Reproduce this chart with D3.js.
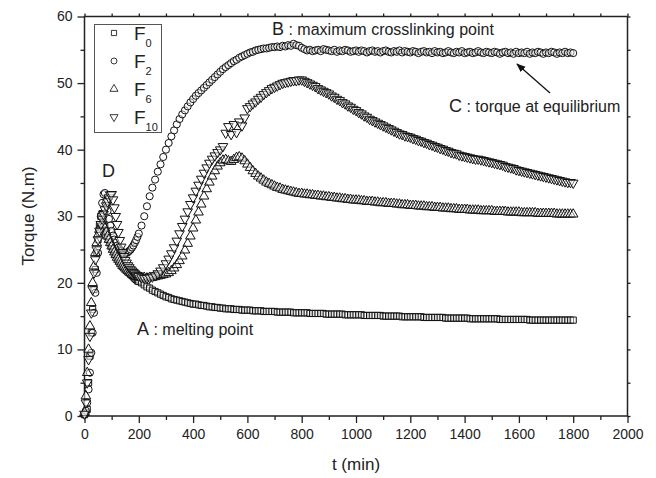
<!DOCTYPE html>
<html>
<head>
  <meta charset="UTF-8">
  <title>Torque vs time</title>
  <style>
    body { margin: 0; background: #fff; }
    text { font-family: "Liberation Sans", Arial, sans-serif; fill: #222; }
  </style>
</head>
<body>
<svg id="chart" width="656" height="478"></svg>
<script src="https://d3js.org/d3.v7.min.js"></script>
<script>

// sampling times (min)
var times = [0,5,10,15,20,25,30,35,40,45,50,55,60,65,70,75,80,85,90,95,
  100,105,110,115,120,125,130,135,140,145,150,155,160,165,170,175,180,185,190,195,200,
  210,220,230,240,250,260,270,280,290,300,310,320,330,340,350,360,370,380,390,400,
  410,420,430,440,450,460,470,480,490,500,510,520,530,540,550,560,570,580,590,600,
  610,620,630,640,650,660,670,680,690,700,710,720,730,740,750,760,770,780,790,800,
  810,820,830,840,850,860,870,880,890,900,910,920,930,940,950,960,970,980,990,1000,
  1010,1020,1030,1040,1050,1060,1070,1080,1090,1100,1110,1120,1130,1140,1150,1160,1170,1180,1190,1200,
  1210,1220,1230,1240,1250,1260,1270,1280,1290,1300,1310,1320,1330,1340,1350,1360,1370,1380,1390,1400,
  1410,1420,1430,1440,1450,1460,1470,1480,1490,1500,1510,1520,1530,1540,1550,1560,1570,1580,1590,1600,
  1610,1620,1630,1640,1650,1660,1670,1680,1690,1700,1710,1720,1730,1740,1750,1760,1770,1780,1790,1800];

// torque (N.m) per sample
var F0 = [0.2,0.5,1,5,9,12.5,16,19,22,24.5,26.5,28.5,30,30.4,29.5,28.5,27.8,27,26.5,26,
  25.5,25.1,24.7,24.3,24,23.6,23.3,23,22.7,22.5,22.2,22,21.8,21.5,21.3,21.1,20.9,20.7,20.5,20.3,20.2,
  20.0,19.7,19.4,19.2,18.9,18.7,18.5,18.3,18.1,17.9,
  17.8,17.6,17.5,17.4,17.3,17.2,17.1,17.0,16.9,16.8,
  16.8,16.7,16.6,16.6,16.5,16.4,16.4,16.3,16.3,16.2,
  16.2,16.1,16.1,16.1,16.0,16.0,16.0,15.9,15.9,15.9,
  15.9,15.8,15.8,15.8,15.8,15.7,15.7,15.7,15.7,15.7,
  15.6,15.6,15.6,15.6,15.6,15.6,15.5,15.5,15.5,15.5,
  15.5,15.5,15.4,15.4,15.4,15.4,15.4,15.4,15.3,15.3,
  15.3,15.3,15.3,15.3,15.3,15.2,15.2,15.2,15.2,15.2,
  15.2,15.2,15.1,15.1,15.1,15.1,15.1,15.1,15.1,15.0,
  15.0,15.0,15.0,15.0,15.0,15.0,14.9,14.9,14.9,14.9,
  14.9,14.9,14.9,14.9,14.8,14.8,14.8,14.8,14.8,14.8,
  14.8,14.8,14.7,14.7,14.7,14.7,14.7,14.7,14.7,14.7,
  14.7,14.6,14.6,14.6,14.6,14.6,14.6,14.6,14.6,14.6,
  14.6,14.6,14.5,14.5,14.5,14.5,14.5,14.5,14.5,14.5,
  14.5,14.5,14.5,14.4,14.4,14.4,14.4,14.4,14.4,14.4,
  14.4,14.4,14.4,14.4,14.4,14.4,14.4,14.4,14.4,14.4];

var F2 = [0.2,0.8,2,4,6.5,9.5,12.5,15.5,18.5,21.5,24.5,27.5,30,32,33.3,33.5,32.2,30.8,29.6,28.6,
  27.8,27.1,26.5,26,25.6,25.3,25,24.8,24.6,24.5,24.5,24.5,24.6,24.8,25,25.3,25.6,26,26.4,26.9,27.4,
  28.6,30,31.5,33,34.3,35.5,36.7,37.8,38.9,40,
  41,42,42.9,43.8,44.6,45.3,45.9,46.5,47.1,47.6,
  48.1,48.5,48.9,49.3,49.7,50.1,50.5,50.9,51.3,51.7,
  52.1,52.4,52.7,53,53.3,53.5,53.8,54,54.2,54.4,
  54.6,54.7,54.9,55,55.1,55.2,55.2,55.3,55.4,55.4,
  55.5,55.4,55.6,55.5,55.7,55.6,55.9,55.7,55.6,55.3,
  55.1,54.9,55.0,54.8,54.9,55.0,54.8,55.1,55.0,54.9,
  54.8,55.0,54.7,54.9,54.8,55.0,54.9,54.7,54.8,54.9,
  54.7,54.9,54.8,54.6,54.8,54.9,54.7,54.8,54.6,54.8,
  54.9,54.7,54.6,54.8,54.7,54.9,54.6,54.8,54.7,54.6,
  54.8,54.7,54.5,54.7,54.8,54.6,54.7,54.5,54.8,54.6,
  54.7,54.5,54.6,54.8,54.6,54.5,54.7,54.6,54.8,54.5,
  54.6,54.7,54.5,54.6,54.8,54.6,54.5,54.7,54.6,54.5,
  54.7,54.6,54.4,54.6,54.7,54.5,54.6,54.4,54.7,54.5,
  54.6,54.5,54.7,54.4,54.6,54.5,54.7,54.6,54.4,54.6,
  54.5,54.7,54.6,54.4,54.6,54.5,54.7,54.5,54.6,54.5];

var F6 = [0.5,3,6.5,10,13.5,17,20,22.5,24.5,26,27.2,28,28.6,28.9,28.7,28.2,27.6,27,26.5,26,
  25.5,25,24.6,24.2,23.8,23.5,23.2,22.9,22.6,22.4,22.2,22,21.8,21.6,21.5,21.3,21.2,21.1,21,20.9,20.9,
  20.8,20.8,20.7,20.8,20.8,20.9,21.0,21.1,21.2,21.3,
  21.5,21.8,22.2,22.7,23.3,24.0,24.9,25.9,27.0,28.2,
  29.4,30.6,31.8,33.0,34.1,35.1,36.0,36.8,37.5,38.0,
  38.4,38.5,38.3,38.2,38.5,38.8,38.9,38.7,38.3,37.8,
  37.3,36.8,36.4,36.0,35.7,35.4,35.1,34.9,34.7,34.5,
  34.3,34.2,34.0,33.9,33.8,33.7,33.6,33.5,33.4,33.4,
  33.3,33.3,33.2,33.2,33.1,33.1,33.0,33.0,32.9,32.9,
  32.8,32.8,32.7,32.7,32.6,32.6,32.5,32.5,32.4,32.4,
  32.4,32.3,32.3,32.2,32.2,32.2,32.1,32.1,32.0,32.0,
  32.0,31.9,31.9,31.9,31.8,31.8,31.7,31.7,31.7,31.6,
  31.6,31.6,31.5,31.5,31.5,31.4,31.4,31.4,31.3,31.3,
  31.3,31.2,31.2,31.2,31.1,31.1,31.1,31.0,31.0,31.0,
  31.0,30.9,30.9,30.9,30.9,30.8,30.8,30.8,30.8,30.8,
  30.7,30.7,30.7,30.7,30.7,30.6,30.6,30.6,30.6,30.6,
  30.5,30.5,30.5,30.5,30.5,30.5,30.4,30.4,30.4,30.4,
  30.4,30.4,30.4,30.3,30.3,30.3,30.3,30.3,30.3,30.3];

var F10 = [0.3,2,5,8.5,12,15.5,19,21.5,23.5,25,26.5,27.8,28.8,29.6,30.3,31,31.6,32.2,32.8,33.2,
  33.3,32.5,31.3,30,28.8,27.6,26.4,25.4,24.6,24,23.4,23,22.6,22.3,22,21.8,21.6,21.4,21.2,21.1,21,
  20.8,20.7,20.7,20.8,20.9,21.1,21.4,21.8,22.3,22.9,
  23.6,24.4,25.3,26.3,27.4,28.5,29.6,30.7,31.8,32.8,
  33.8,34.7,35.6,36.5,37.3,38.0,38.6,39.1,39.6,40.0,
  40.5,42.5,43.5,42.3,43.8,42.6,44.2,43.6,44.8,46.2,
  46.5,46.9,47.2,47.6,47.9,48.3,48.6,48.9,49.2,49.4,
  49.6,49.8,50.0,50.1,50.2,50.3,50.4,50.4,50.5,50.5,
  50.3,50.1,49.9,49.7,49.5,49.2,49.0,48.8,48.6,48.4,
  48.1,47.9,47.6,47.4,47.1,46.9,46.6,46.4,46.1,45.9,
  45.6,45.4,45.1,44.9,44.6,44.4,44.2,44.0,43.8,43.6,
  43.4,43.2,43.0,42.8,42.6,42.4,42.3,42.1,42.0,41.9,
  41.7,41.6,41.4,41.3,41.1,41.0,40.8,40.7,40.5,40.4,
  40.2,40.1,39.9,39.8,39.6,39.5,39.4,39.2,39.1,39.0,
  38.9,38.8,38.7,38.6,38.6,38.5,38.4,38.3,38.2,38.1,
  38.0,37.9,37.8,37.7,37.5,37.4,37.3,37.2,37.0,36.9,
  36.8,36.7,36.6,36.5,36.4,36.3,36.2,36.1,36.0,35.9,
  35.8,35.7,35.6,35.5,35.4,35.3,35.2,35.1,35.1,35.0];

var seriesNames = ["0", "2", "6", "10"];
var xTicks = [0,200,400,600,800,1000,1200,1400,1600,1800,2000];
var yTicks = [0,10,20,30,40,50,60];

var svg = d3.select("#chart");

var x = d3.scaleLinear().domain([0, 2000]).range([84.5, 627.5]);
var y = d3.scaleLinear().domain([0, 60]).range([416, 16.5]);

// marker shapes
var shapes = [
  { sym: d3.symbolSquare, size: 38, rot: 0 },
  { sym: d3.symbolCircle, size: 40, rot: 0 },
  { sym: d3.symbolTriangle, size: 40, rot: 0 },
  { sym: d3.symbolTriangle, size: 40, rot: 180 }
];
var allSeries = [F0, F2, F6, F10];

// axes
var axisColor = "#222";
function styleAxis(g) {
  g.selectAll("path").remove();
  g.selectAll("line").attr("stroke", axisColor).attr("stroke-width", 1.3);
  g.selectAll("text").style("font-size", "14px").attr("fill", "#222");
}

svg.append("g")
  .attr("transform", "translate(0,416)")
  .call(d3.axisBottom(x).tickValues(d3.range(100, 2000, 200)).tickSize(4).tickFormat(""))
  .call(styleAxis);
svg.append("g")
  .attr("transform", "translate(0,416)")
  .call(d3.axisBottom(x).tickValues(xTicks).tickSize(7).tickPadding(6).tickFormat(d3.format("d")))
  .call(styleAxis);

svg.append("g")
  .attr("transform", "translate(84.5,0)")
  .call(d3.axisLeft(y).tickValues([5,15,25,35,45,55]).tickSize(4).tickFormat(""))
  .call(styleAxis);
svg.append("g")
  .attr("transform", "translate(84.5,0)")
  .call(d3.axisLeft(y).tickValues(yTicks).tickSize(7).tickPadding(5))
  .call(styleAxis);

// top / right ticks (small, outward)
svg.append("g")
  .attr("transform", "translate(0,16.5)")
  .call(d3.axisTop(x).tickValues(d3.range(0, 2001, 100)).tickSize(3).tickFormat(""))
  .call(styleAxis);
svg.append("g")
  .attr("transform", "translate(627.5,0)")
  .call(d3.axisRight(y).tickValues(d3.range(0, 61, 5)).tickSize(3).tickFormat(""))
  .call(styleAxis);

// frame
svg.append("rect")
  .attr("x", x(0)).attr("y", y(60))
  .attr("width", x(2000) - x(0)).attr("height", y(0) - y(60))
  .attr("fill", "none").attr("stroke", axisColor).attr("stroke-width", 1.5);

// data markers (semi-transparent fill so overlaps read as a dark band)
allSeries.forEach(function(vals, i) {
  var s = shapes[i];
  var sym = d3.symbol().type(s.sym).size(s.size);
  svg.append("g")
    .selectAll("path")
    .data(vals)
    .enter()
    .append("path")
    .attr("d", sym)
    .attr("transform", function(d, j) {
      return "translate(" + x(times[j]) + "," + y(d) + ") rotate(" + s.rot + ")";
    })
    .attr("fill", "#fff")
    .attr("fill-opacity", 0.45)
    .attr("stroke", "#111")
    .attr("stroke-width", 1);
});

// legend
var legend = svg.append("g");
legend.append("rect")
  .attr("x", 94.5).attr("y", 24.5).attr("width", 67).attr("height", 108)
  .attr("fill", "#fff").attr("stroke", "#555").attr("stroke-width", 1);
var legY = [33, 61, 89, 117];
seriesNames.forEach(function(n, i) {
  var s = shapes[i];
  legend.append("path")
    .attr("d", d3.symbol().type(s.sym).size(s.size * 0.7))
    .attr("transform", "translate(114," + legY[i] + ") rotate(" + s.rot + ")")
    .attr("fill", "#fff").attr("stroke", "#222").attr("stroke-width", 0.9);
  var t = legend.append("text")
    .attr("x", 134).attr("y", legY[i] + 7)
    .style("font-size", "19px");
  t.append("tspan").text("F");
  t.append("tspan").attr("dy", 7).style("font-size", "11px").text(n);
});

// annotations
function label(xp, yp, big, rest) {
  var t = svg.append("text").attr("x", xp).attr("y", yp);
  t.append("tspan").style("font-size", "18px").text(big);
  if (rest) t.append("tspan").style("font-size", "16px").text(rest);
}
label(102, 177, "D");
label(137, 335, "A", " : melting point");
label(272, 35, "B", " : maximum crosslinking point");
label(449, 112, "C", " : torque at equilibrium");

// arrow
svg.append("defs").append("marker")
  .attr("id", "ah").attr("viewBox", "0 0 10 10")
  .attr("refX", 9).attr("refY", 5)
  .attr("markerWidth", 7).attr("markerHeight", 7)
  .attr("orient", "auto")
  .append("path").attr("d", "M0,1 L10,5 L0,9 Z").attr("fill", "#111");
svg.append("line")
  .attr("x1", 550).attr("y1", 93).attr("x2", 517).attr("y2", 64)
  .attr("stroke", "#111").attr("stroke-width", 1.3)
  .attr("marker-end", "url(#ah)");

// axis titles
svg.append("text")
  .attr("x", 356).attr("y", 470)
  .attr("text-anchor", "middle")
  .style("font-size", "17px")
  .text("t (min)");
svg.append("text")
  .attr("transform", "translate(34,216) rotate(-90)")
  .attr("text-anchor", "middle")
  .style("font-size", "17px")
  .text("Torque (N.m)");

</script>
</body>
</html>
